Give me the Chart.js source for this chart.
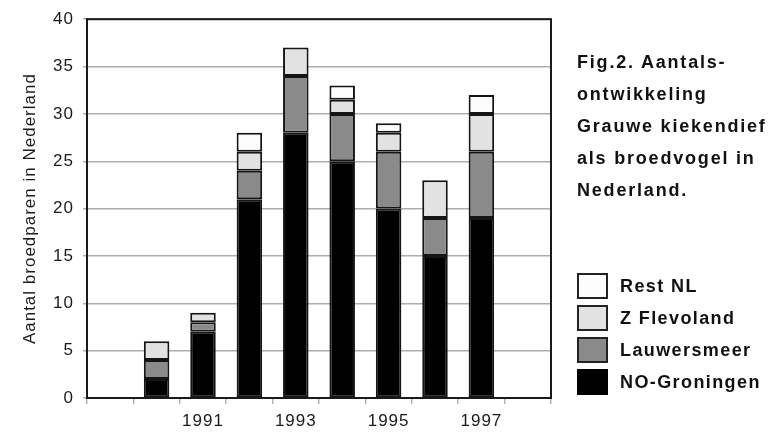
<!DOCTYPE html>
<html>
<head>
<meta charset="utf-8">
<script src="https://cdn.jsdelivr.net/npm/chart.js@4/dist/chart.umd.min.js"></script>
<style>
  html, body { margin: 0; padding: 0; background: #fff; }
  #wrap { position: relative; width: 770px; height: 432px; }
  #caption {
    position: absolute; left: 577px; top: 46px;
    font: bold 18px "Liberation Sans", Arial, sans-serif;
    letter-spacing: 1.8px; line-height: 32px; color: #111;
  }
  #legend { position: absolute; left: 577px; top: 270px; }
  .item { display: flex; align-items: center; height: 32px;
    font: bold 18px "Liberation Sans", Arial, sans-serif; letter-spacing: 1.4px; color: #111; }
  .box { width: 27px; height: 22px; border: 2px solid #222; margin-right: 12px; }
</style>
</head>
<body>
<div id="wrap">
  <canvas id="myChart" width="770" height="432"></canvas>
  <div id="caption">Fig.2. Aantals-<br>ontwikkeling<br>Grauwe kiekendief<br>als broedvogel in<br>Nederland.</div>
  <div id="legend"></div>
</div>
<script>
var years = ['1989', '1990', '1991', '1992', '1993', '1994', '1995', '1996', '1997', '1998'];
var shownYears = ['1991', '1993', '1995', '1997'];
var yTicks = [0, 5, 10, 15, 20, 25, 30, 35, 40];

var noGroningen = [0, 2, 7, 21, 28, 25, 20, 15, 19, 0];
var lauwersmeer = [0, 2, 1, 3, 6, 5, 6, 4, 7, 0];
var zFlevoland = [0, 2, 1, 2, 3, 1.5, 2, 4, 4, 0];
var restNL = [0, 0, 0, 2, 0, 1.5, 1, 0, 2, 0];

var ctx = document.getElementById('myChart');

const datasets = [
  { label: 'NO-Groningen', data: noGroningen, backgroundColor: '#000000' },
  { label: 'Lauwersmeer', data: lauwersmeer, backgroundColor: '#8a8a8a' },
  { label: 'Z Flevoland', data: zFlevoland, backgroundColor: '#e2e2e2' },
  { label: 'Rest NL', data: restNL, backgroundColor: '#fcfcfc' }
];
datasets.forEach(function (d) {
  d.borderColor = '#151515';
  d.borderWidth = 2;
  d.borderSkipped = false;
  d.barPercentage = 0.55;
  d.categoryPercentage = 1;
});

// frame round the plot area
const frame = {
  id: 'frame',
  beforeDraw(chart) {
    chart.ctx.letterSpacing = '1px';
  },
  afterDraw(chart) {
    const a = chart.chartArea;
    const c = chart.ctx;
    c.save();
    c.strokeStyle = '#1a1a1a';
    c.lineWidth = 2;
    c.strokeRect(a.left, a.top, a.right - a.left, a.bottom - a.top);
    c.restore();
  }
};

const options = {
  responsive: false,
  animation: false,
  layout: { padding: { top: 15, right: 219, bottom: 0, left: 0 } },
  plugins: { legend: { display: false }, tooltip: { enabled: false } },
  scales: {
    x: {
      stacked: true,
      afterFit: function (s) { s.height = 34; },
      grid: { drawOnChartArea: false, drawTicks: true, tickLength: 6, color: '#b5b5b5', lineWidth: 1.5 },
      border: { color: '#1a1a1a', width: 2 },
      ticks: {
        autoSkip: false, maxRotation: 0, padding: 7,
        color: '#1a1a1a', font: { family: 'Liberation Sans', size: 17 },
        callback: function (v, i) { return shownYears.includes(years[i]) ? years[i] : ''; }
      }
    },
    y: {
      stacked: true,
      min: 0, max: 40,
      afterFit: function (s) { s.width = 87; },
      afterBuildTicks: function (s) { s.ticks = yTicks.map(function (v) { return { value: v }; }); },
      grid: { color: '#adadad', lineWidth: 1.5, tickLength: 4 },
      border: { color: '#1a1a1a', width: 2 },
      ticks: { padding: 9, color: '#1a1a1a', font: { family: 'Liberation Sans', size: 17 } },
      title: {
        display: true, text: 'Aantal broedparen in Nederland',
        color: '#1a1a1a', font: { family: 'Liberation Sans', size: 17 },
        padding: { top: 20, bottom: 0 }
      }
    }
  }
};

new Chart(ctx, {
  type: 'bar',
  data: { labels: years, datasets: datasets },
  options: options,
  plugins: [frame]
});

// legend, top entry is the top of the stack
var legend = document.getElementById('legend');
datasets.slice().reverse().forEach(function (d) {
  var item = document.createElement('div');
  item.className = 'item';
  var box = document.createElement('span');
  box.className = 'box';
  box.style.background = d.backgroundColor;
  if (d.backgroundColor === '#000000') box.style.borderColor = '#000';
  item.appendChild(box);
  item.appendChild(document.createTextNode(d.label));
  legend.appendChild(item);
});
</script>
</body>
</html>
